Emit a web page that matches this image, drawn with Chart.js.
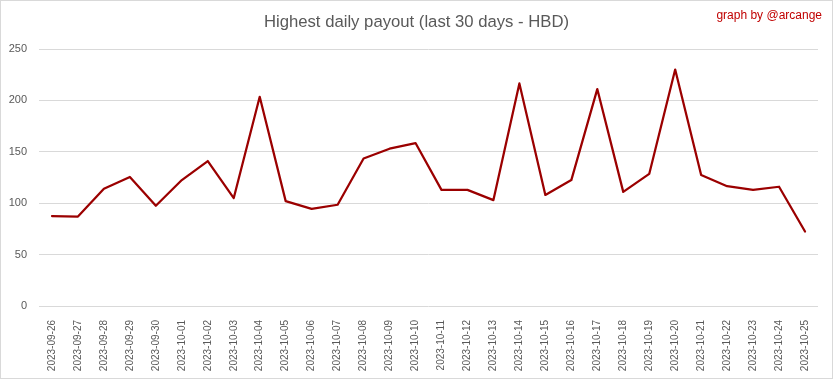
<!DOCTYPE html>
<html>
<head>
<meta charset="utf-8">
<script src="https://cdn.jsdelivr.net/npm/chart.js@4"></script>
<style>
  body { margin: 0; background: #fff; }
  .wrap { width: 833px; height: 379px; box-sizing: border-box; border: 1px solid #d9d9d9; }
  canvas { display: block; }
</style>
</head>
<body>
<div class="wrap"><canvas class="payout-chart" width="831" height="377"></canvas></div>
<script>
const days = [
  "2023-09-26", "2023-09-27", "2023-09-28", "2023-09-29", "2023-09-30",
  "2023-10-01", "2023-10-02", "2023-10-03", "2023-10-04", "2023-10-05",
  "2023-10-06", "2023-10-07", "2023-10-08", "2023-10-09", "2023-10-10",
  "2023-10-11", "2023-10-12", "2023-10-13", "2023-10-14", "2023-10-15",
  "2023-10-16", "2023-10-17", "2023-10-18", "2023-10-19", "2023-10-20",
  "2023-10-21", "2023-10-22", "2023-10-23", "2023-10-24", "2023-10-25",
];
const payout = [
  87.5, 87, 114, 125.5, 97.5,
  122.5, 141, 105, 203.5, 102,
  94.5, 98.5, 143.5, 153, 158.5,
  113, 113, 103, 216.5, 108,
  122.5, 211, 111, 128.5, 230,
  127.5, 116.5, 113, 116, 72.5,
];
const yTicks = [0, 50, 100, 150, 200, 250];

const ctx = document.querySelector(".payout-chart").getContext("2d");

// title centred over the whole canvas, signature in the top right corner
const header = {
  id: "header",
  afterDraw(chart) {
    const c = chart.ctx;
    c.save();
    c.textBaseline = "middle";
    c.font = "16.7px 'Liberation Sans', Arial, sans-serif";
    c.fillStyle = "#595959";
    c.textAlign = "center";
    c.fillText("Highest daily payout (last 30 days - HBD)", chart.width / 2, 21);
    c.font = "12px 'Liberation Sans', Arial, sans-serif";
    c.fillStyle = "#c00000";
    c.textAlign = "right";
    c.fillText("graph by @arcange", chart.width - 10, 15);
    c.restore();
  },
};

new Chart(ctx, {
  type: "line",
  data: {
    labels: days,
    datasets: [
      {
        label: "Highest daily payout",
        data: payout,
        borderColor: "#9b0000",
        backgroundColor: "#9b0000",
        borderWidth: 2.25,
        borderJoinStyle: "round",
        borderCapStyle: "round",
        pointRadius: 0,
        tension: 0,
      },
    ],
  },
  options: {
    responsive: false,
    animation: false,
    layout: { padding: { left: 0, right: 14, top: 48, bottom: 0 } },
    plugins: {
      legend: { display: false },
      tooltip: { enabled: false },
      title: { display: false },
    },
    scales: {
      x: {
        offset: true,
        grid: { display: false },
        border: { display: false },
        ticks: {
          color: "#595959",
          font: { family: "'Liberation Sans', Arial, sans-serif", size: 10 },
          minRotation: 90,
          maxRotation: 90,
          autoSkip: false,
          padding: 6,
        },
        afterFit(scale) {
          scale.height = 72;
        },
      },
      y: {
        min: 0,
        max: 250,
        grid: { color: "#d9d9d9", lineWidth: 1, drawTicks: false },
        border: { display: false },
        afterBuildTicks(scale) {
          scale.ticks = yTicks.map((v) => ({ value: v }));
        },
        ticks: {
          color: "#595959",
          font: { family: "'Liberation Sans', Arial, sans-serif", size: 11 },
          padding: 12,
        },
        afterFit(scale) {
          scale.width = 38;
        },
      },
    },
  },
  plugins: [header],
});
</script>
</body>
</html>
